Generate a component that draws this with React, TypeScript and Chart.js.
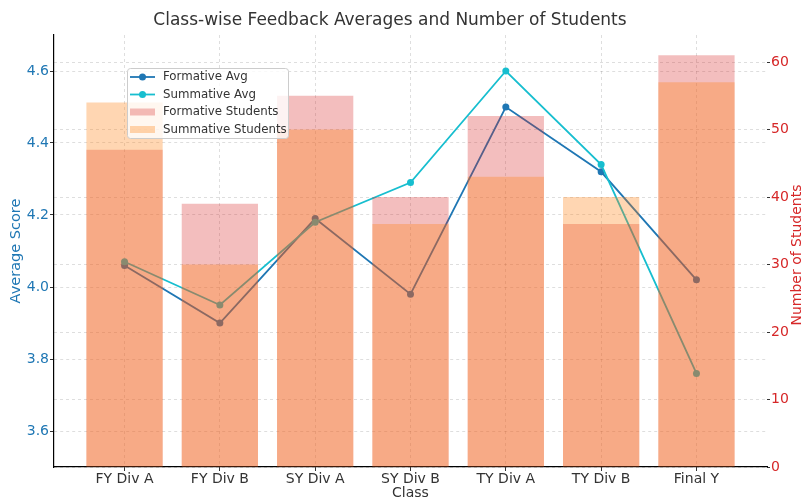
import React, { useEffect, useRef } from "react";
import { Chart, registerables } from "chart.js";

Chart.register(...registerables);

const classes = ["FY Div A", "FY Div B", "SY Div A", "SY Div B", "TY Div A", "TY Div B", "Final Y"];
const formativeAvg = [4.06, 3.9, 4.19, 3.98, 4.5, 4.32, 4.02];
const summativeAvg = [4.07, 3.95, 4.18, 4.29, 4.6, 4.34, 3.76];
const formativeStudents = [47, 39, 55, 40, 52, 36, 61];
const summativeStudents = [54, 30, 50, 36, 43, 40, 57];
const scoreTicks = [3.6, 3.8, 4.0, 4.2, 4.4, 4.6];
const studentTicks = [0, 10, 20, 30, 40, 50, 60];

const TITLE = "Class-wise Feedback Averages and Number of Students";
const FONT = "'DejaVu Sans', sans-serif";
const BLUE = "#1f77b4";
const CYAN = "#17becf";
const RED = "#d62728";
const PINK = "rgba(214,39,40,0.3)";
const ORANGE = "rgba(255,127,14,0.32)";
const GRID = "rgba(0,0,0,0.13)";

const legendItems = [
  { label: "Formative Avg", type: "line", color: BLUE },
  { label: "Summative Avg", type: "line", color: CYAN },
  { label: "Formative Students", type: "bar", color: PINK },
  { label: "Summative Students", type: "bar", color: ORANGE },
];

const customPlugin = {
  id: "customDecor",
  afterDraw(chart: any) {
    const ctx = chart.ctx;
    const area = chart.chartArea;
    // title
    ctx.save();
    ctx.fillStyle = "#333333";
    ctx.font = `17px ${FONT}`;
    ctx.textAlign = "center";
    ctx.textBaseline = "middle";
    ctx.fillText(TITLE, 390, 21);
    ctx.restore();

    // right axis title, reading bottom to top
    ctx.save();
    ctx.fillStyle = RED;
    ctx.font = `14px ${FONT}`;
    ctx.textAlign = "center";
    ctx.textBaseline = "middle";
    ctx.translate(797, (area.top + area.bottom) / 2 + 4);
    ctx.rotate(-Math.PI / 2);
    ctx.fillText("Number of Students", 0, 0);
    ctx.restore();

    // legend
    ctx.save();
    const bx = 127, by = 68, bw = 161, bh = 70;
    ctx.fillStyle = "rgba(255,255,255,0.8)";
    ctx.strokeStyle = "#cccccc";
    ctx.lineWidth = 1;
    ctx.beginPath();
    (ctx as any).roundRect(bx + 0.5, by + 0.5, bw, bh, 3);
    ctx.fill();
    ctx.stroke();
    const rows = [77, 94.5, 112, 129.5];
    ctx.font = `11.8px ${FONT}`;
    ctx.textAlign = "left";
    ctx.textBaseline = "middle";
    legendItems.forEach((it, i) => {
      const y = rows[i];
      if (it.type === "line") {
        ctx.strokeStyle = it.color;
        ctx.lineWidth = 1.8;
        ctx.beginPath();
        ctx.moveTo(130, y);
        ctx.lineTo(155, y);
        ctx.stroke();
        ctx.fillStyle = it.color;
        ctx.beginPath();
        ctx.arc(142.5, y, 3.5, 0, Math.PI * 2);
        ctx.fill();
      } else {
        ctx.fillStyle = it.color;
        ctx.fillRect(130, y - 3.5, 25, 7);
      }
      ctx.fillStyle = "#333333";
      ctx.fillText(it.label, 163, y);
    });
    ctx.restore();
  },
};

export default function App() {
  const ref = useRef<HTMLCanvasElement | null>(null);
  useEffect(() => {
    if (!ref.current) return;
    const pts = (arr: number[]) => arr.map((v, i) => ({ x: i, y: v }));
    const chart = new Chart(ref.current, {
      data: {
        datasets: [
          {
            type: "line",
            label: "Formative Avg",
            data: pts(formativeAvg),
            borderColor: BLUE,
            backgroundColor: BLUE,
            borderWidth: 1.8,
            pointRadius: 3.5,
            pointBorderWidth: 0,
            yAxisID: "y",
            order: 3,
          },
          {
            type: "line",
            label: "Summative Avg",
            data: pts(summativeAvg),
            borderColor: CYAN,
            backgroundColor: CYAN,
            borderWidth: 1.8,
            pointRadius: 3.5,
            pointBorderWidth: 0,
            yAxisID: "y",
            order: 2,
          },
          {
            type: "bar",
            label: "Formative Students",
            data: pts(formativeStudents),
            backgroundColor: PINK,
            borderWidth: 0,
            yAxisID: "y1",
            grouped: false,
            barPercentage: 0.8,
            categoryPercentage: 1,
            order: 1,
          },
          {
            type: "bar",
            label: "Summative Students",
            data: pts(summativeStudents),
            backgroundColor: ORANGE,
            borderWidth: 0,
            yAxisID: "y1",
            grouped: false,
            barPercentage: 0.8,
            categoryPercentage: 1,
            order: 0,
          },
        ] as any,
      },
      options: {
        animation: false,
        responsive: true,
        maintainAspectRatio: false,
        layout: { padding: { top: 35 } },
        plugins: {
          legend: { display: false },
          tooltip: { enabled: false },
          title: { display: false },
        },
        scales: {
          x: {
            type: "linear",
            min: -0.74,
            max: 6.74,
            offset: false,
            afterBuildTicks: (s: any) => {
              s.ticks = classes.map((_, i) => ({ value: i }));
            },
            afterFit: (s: any) => {
              s.height = 33;
            },
            ticks: {
              callback: (v: any) => classes[Math.round(Number(v))] ?? "",
              color: "#333333",
              font: { family: FONT, size: 14 },
              padding: 0,
              maxRotation: 0,
              autoSkip: false,
            },
            grid: {
              offset: false,
              color: GRID,
              tickColor: "#333333",
              tickLength: 4,
              tickBorderDash: [],
            },
            border: { display: true, color: "#000000", width: 1.2, dash: [3, 3] },
            title: {
              display: true,
              text: "Class",
              color: "#333333",
              font: { family: FONT, size: 14 },
              padding: { top: 0, bottom: -2 },
            },
          },
          y: {
            type: "linear",
            position: "left",
            min: 3.5,
            max: 4.7,
            afterBuildTicks: (s: any) => {
              s.ticks = scoreTicks.map((v) => ({ value: v }));
            },
            afterFit: (s: any) => {
              s.width = 54;
            },
            ticks: {
              callback: (v: any) => Number(v).toFixed(1),
              color: BLUE,
              font: { family: FONT, size: 14 },
              padding: 1,
            },
            grid: {
              color: GRID,
              tickColor: "#333333",
              tickLength: 4,
              tickBorderDash: [],
            },
            border: { display: true, color: "#000000", width: 1.2, dash: [3, 3] },
            title: {
              display: true,
              text: "Average Score",
              color: BLUE,
              font: { family: FONT, size: 14.5 },
              padding: { top: 8, bottom: 0 },
            },
          },
          y1: {
            type: "linear",
            position: "right",
            min: 0,
            max: 64,
            afterBuildTicks: (s: any) => {
              s.ticks = studentTicks.map((v) => ({ value: v }));
            },
            afterFit: (s: any) => {
              s.width = 37;
            },
            ticks: {
              color: RED,
              font: { family: FONT, size: 14 },
              padding: 1,
            },
            grid: {
              color: GRID,
              tickColor: "#333333",
              tickLength: 3,
              tickBorderDash: [],
            },
            border: { display: false, dash: [3, 3] },
          },
        },
      } as any,
      plugins: [customPlugin],
    });
    return () => chart.destroy();
  }, []);
  return (
    <div style={{ position: "fixed", left: 0, top: 0, width: 804, height: 500, background: "#fff" }}>
      <canvas ref={ref} />
    </div>
  );
}
